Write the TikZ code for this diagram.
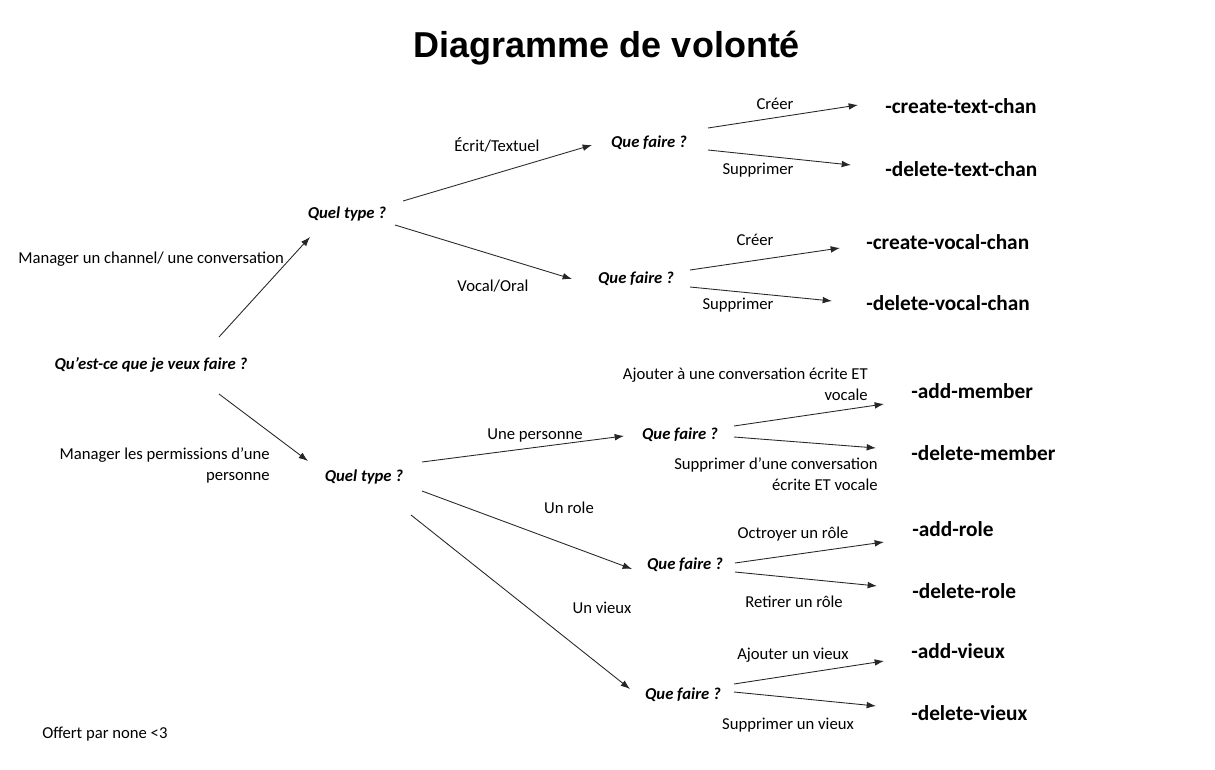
\documentclass[tikz,border=0pt]{standalone}
\usepackage{fontspec}
\setmainfont{Carlito}
\newfontfamily\titlefont{Liberation Sans}
\usetikzlibrary{arrows.meta}
\begin{document}
\begin{tikzpicture}[x=0.75pt,y=-0.75pt,
  lbl/.style={font=\fontsize{12.5}{15.75}\selectfont, inner sep=0pt},
  qn/.style={font=\fontsize{12.5}{14}\selectfont\bfseries\itshape, inner sep=0pt},
  cmd/.style={font=\fontsize{16}{18}\selectfont\bfseries, inner sep=0pt, anchor=west},
  arr/.style={-{Latex[length=7pt,width=5pt]}, line width=0.65pt, draw=black!85}]
\useasboundingbox[fill=white] (0,0) rectangle (1215,770);

\node[font=\titlefont\bfseries\fontsize{27}{32}\selectfont, inner sep=0pt] (title) at (607,48) {Diagramme de volonté};

% question nodes
\node[qn] (root) at (151,365) {Qu’est-ce que je veux faire ?};
\node[qn] (qt1) at (347,214) {Quel type ?};
\node[qn] (qt2) at (364,477) {Quel type ?};
\node[qn] (qf1) at (649,143) {Que faire ?};
\node[qn] (qf2) at (636,279) {Que faire ?};
\node[qn] (qf3) at (680,435) {Que faire ?};
\node[qn] (qf4) at (685,565) {Que faire ?};
\node[qn] (qf5) at (683,695) {Que faire ?};

% command nodes
\node[cmd] (c1) at (885,106) {-create-text-chan};
\node[cmd] (c2) at (885,169) {-delete-text-chan};
\node[cmd] (c3) at (866,242) {-create-vocal-chan};
\node[cmd] (c4) at (866,303) {-delete-vocal-chan};
\node[cmd] (c5) at (911,391) {-add-member};
\node[cmd] (c6) at (911,453) {-delete-member};
\node[cmd] (c7) at (912,529) {-add-role};
\node[cmd] (c8) at (912,591) {-delete-role};
\node[cmd] (c9) at (911,651) {-add-vieux};
\node[cmd] (c10) at (911,713) {-delete-vieux};

% connector end points
\coordinate (r1s) at (219,337); \coordinate (r1e) at (310,237);
\coordinate (r2s) at (219,394); \coordinate (r2e) at (308,461);
\coordinate (a1s) at (403,201); \coordinate (a1e) at (592,145);
\coordinate (a2s) at (395,225); \coordinate (a2e) at (572,279);
\coordinate (b1s) at (422,462); \coordinate (b1e) at (624,436);
\coordinate (b2s) at (422,491); \coordinate (b2e) at (632,569);
\coordinate (b3s) at (411,515); \coordinate (b3e) at (630,689);
\coordinate (d1s) at (708,128); \coordinate (d1e) at (858,105);
\coordinate (d2s) at (708,150); \coordinate (d2e) at (851,165);
\coordinate (d3s) at (690,270); \coordinate (d3e) at (840,248);
\coordinate (d4s) at (690,287); \coordinate (d4e) at (832,301);
\coordinate (d5s) at (734,426); \coordinate (d5e) at (884,404);
\coordinate (d6s) at (734,437); \coordinate (d6e) at (876,448);
\coordinate (d7s) at (735,563); \coordinate (d7e) at (884,542);
\coordinate (d8s) at (735,572); \coordinate (d8e) at (877,586);
\coordinate (d9s) at (734,684); \coordinate (d9e) at (884,661);
\coordinate (d10s) at (734,692); \coordinate (d10e) at (876,706);

\foreach \s/\e in {r1s/r1e,r2s/r2e,a1s/a1e,a2s/a2e,b1s/b1e,b2s/b2e,b3s/b3e,
  d1s/d1e,d2s/d2e,d3s/d3e,d4s/d4e,d5s/d5e,d6s/d6e,d7s/d7e,d8s/d8e,d9s/d9e,d10s/d10e}
  \draw[arr] (\s) -- (\e);

% labels
\node[lbl, anchor=west] (l1) at (18,259) {Manager un channel/ une conversation};
\node[lbl, anchor=north east, align=right] (l2) at (270,447) {Manager les permissions d’une\\personne};
\node[lbl] (l3) at (497,145) {Écrit/Textuel};
\node[lbl] (l4) at (493,286) {Vocal/Oral};
\node[lbl] (l5) at (775,104) {Créer};
\node[lbl] (l6) at (758,170) {Supprimer};
\node[lbl] (l7) at (755,240) {Créer};
\node[lbl] (l8) at (738,305) {Supprimer};
\node[lbl] (l9) at (535,435) {Une personne};
\node[lbl] (l10) at (569,508) {Un role};
\node[lbl] (l11) at (602,608) {Un vieux};
\node[lbl, anchor=north east, align=right] (l12) at (868,368) {Ajouter à une conversation écrite ET\\vocale};
\node[lbl, anchor=north east, align=right] (l13) at (878,457) {Supprimer d’une conversation\\écrite ET vocale};
\node[lbl] (l14) at (793,534) {Octroyer un rôle};
\node[lbl] (l15) at (794,602) {Retirer un rôle};
\node[lbl] (l16) at (793,655) {Ajouter un vieux};
\node[lbl] (l17) at (788,725) {Supprimer un vieux};
\node[lbl, anchor=west] (foot) at (42,734) {Offert par none <3};
\end{tikzpicture}
\end{document}
